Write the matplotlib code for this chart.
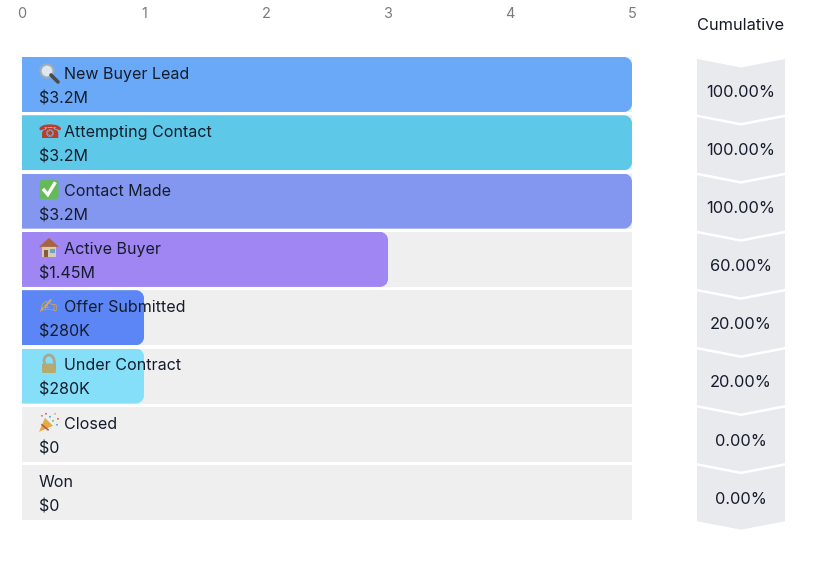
import matplotlib
matplotlib.use("Agg")
import matplotlib.pyplot as plt
from matplotlib.patches import Polygon, Circle, Rectangle, FancyBboxPatch, Arc, PathPatch
from matplotlib.path import Path

stages = ["New Buyer Lead", "Attempting Contact", "Contact Made", "Active Buyer",
          "Offer Submitted", "Under Contract", "Closed", "Won"]
# icon kinds: a text glyph where an installed font has one, otherwise a small drawn symbol
icons = ["search", "\u260E", "check", "house", "\u270D", "lock", "party", ""]
amounts = ["$3.2M", "$3.2M", "$3.2M", "$1.45M", "$280K", "$280K", "$0", "$0"]
counts = [5, 5, 5, 3, 1, 1, 0, 0]
cumulative = ["100.00%", "100.00%", "100.00%", "60.00%", "20.00%", "20.00%", "0.00%", "0.00%"]
colors = ["#69a9f8", "#5ec8e8", "#8497f0", "#9f86f2", "#5c86f5", "#86dff9", "#69a9f8", "#69a9f8"]
xticks = [0, 1, 2, 3, 4, 5]

W, H = 822, 572
plt.rcParams["font.family"] = ["Inter", "DejaVu Sans"]
fig = plt.figure(figsize=(W / 100, H / 100), dpi=100, facecolor="white")

top, pitch = 57.0, 58.3
bottom = top + 8 * pitch
bar_h = 55.0 / pitch
ax = fig.add_axes([22 / W, 1 - bottom / H, 610 / W, (bottom - top) / H])
ax.set_xlim(0, 5)
ax.set_ylim(8, 0)
for s in ax.spines.values():
    s.set_visible(False)
ax.patch.set_alpha(0)
ax.set_yticks([])
ax.xaxis.tick_top()
ax.set_xticks(xticks)
ax.tick_params(axis="x", length=0, pad=26, labelsize=10.4, labelcolor="#777a80")

ys = [i + bar_h / 2 for i in range(len(stages))]
ax.barh(ys, [5] * len(stages), height=bar_h, color="#efeff0", linewidth=0, zorder=1)
bars = ax.barh(ys, counts, height=bar_h, color=colors, linewidth=0, zorder=2)

rx = 8 / 122
ry = 8 / pitch
K = 0.55
for b in bars:
    x0, y0, w, h = b.get_x(), b.get_y(), b.get_width(), b.get_height()
    if w == 0:
        continue
    x1, y1 = x0 + w, y0 + h
    verts = [(x0, y0), (x1 - rx, y0),
             (x1 - rx + K * rx, y0), (x1, y0 + ry - K * ry), (x1, y0 + ry),
             (x1, y1 - ry),
             (x1, y1 - ry + K * ry), (x1 - rx + K * rx, y1), (x1 - rx, y1),
             (x0, y1), (x0, y0)]
    codes = [Path.MOVETO, Path.LINETO, Path.CURVE4, Path.CURVE4, Path.CURVE4,
             Path.LINETO, Path.CURVE4, Path.CURVE4, Path.CURVE4, Path.LINETO, Path.CLOSEPOLY]
    b.set_clip_path(PathPatch(Path(verts, codes), transform=ax.transData))

# overlay in pixel units for the small emoji-like symbols
ov = fig.add_axes([0, 0, 1, 1], zorder=5)
ov.set_xlim(0, W)
ov.set_ylim(H, 0)
ov.axis("off")
ov.patch.set_alpha(0)


def draw_search(c, y):
    ov.plot([c + 2, c + 9], [y + 2, y + 9], color="#4a4a4e", lw=2.6, solid_capstyle="round")
    ov.add_patch(Circle((c - 2, y - 2), 6.5, facecolor="#dbe8f2", edgecolor="#a3acb3", lw=1.6))


def draw_check(c, y):
    ov.add_patch(FancyBboxPatch((c - 7.5, y - 7.5), 15, 15, boxstyle="round,pad=2,rounding_size=3.5",
                                facecolor="#62bb55", edgecolor="none"))
    ov.plot([c - 5, c - 1.2, c + 5.5], [y + 0.5, y + 5, y - 6], color="white", lw=2.4,
            solid_joinstyle="miter")


def draw_house(c, y):
    ov.add_patch(Rectangle((c - 7, y - 2), 14, 11, facecolor="#d9cbb4", edgecolor="none"))
    ov.add_patch(Polygon([(c - 10, y - 1), (c, y - 10), (c + 10, y - 1)], closed=True,
                         facecolor="#a8633f", edgecolor="none"))
    ov.add_patch(Rectangle((c - 5, y + 2), 3.5, 7, facecolor="#8a5a3a", edgecolor="none"))
    ov.add_patch(Rectangle((c + 0.5, y + 1), 5, 4, facecolor="#6fa3c4", edgecolor="none"))


def draw_lock(c, y):
    ov.add_patch(Arc((c, y - 3), 10.5, 13, theta1=180, theta2=360, color="#a9a78f", lw=2))
    ov.plot([c - 5.2, c - 5.2], [y - 3, y + 1], color="#a9a78f", lw=2)
    ov.plot([c + 5.2, c + 5.2], [y - 3, y + 1], color="#a9a78f", lw=2)
    ov.add_patch(FancyBboxPatch((c - 6.5, y - 0.5), 13, 8.5, boxstyle="round,pad=0.5,rounding_size=1.5",
                                facecolor="#b9a96c", edgecolor="none"))


def draw_party(c, y):
    ov.add_patch(Polygon([(c - 10, y + 9), (c - 4, y - 5), (c + 4, y + 3)], closed=True,
                         facecolor="#e3ad46", edgecolor="none"))
    ov.plot([c - 7, c - 1], [y + 2, y + 7], color="#c0564a", lw=1.2)
    for dx, dy, col in [(-3, -9, "#d9534f"), (1, -6, "#4f9bd9"), (6, -9, "#e3ad46"),
                        (9, -4, "#d9534f"), (4, -2, "#62bb55"), (8, 2, "#4f9bd9"), (-7, -7, "#b06cc8")]:
        ov.add_patch(Circle((c + dx, y + dy), 0.9, facecolor=col, edgecolor="none"))


drawers = {"search": draw_search, "check": draw_check, "house": draw_house,
           "lock": draw_lock, "party": draw_party}
glyph_colors = {"\u260E": "#c0392b", "\u270D": "#e8a92f"}
glyph_sizes = {"\u260E": 14.0, "\u270D": 16.0}

dark = "#151c2b"
for i, (name, icon, amt) in enumerate(zip(stages, icons, amounts)):
    tx = 17 / 122
    nx = 42 / 122
    ny = i + 17.5 / pitch
    row_y = top + i * pitch + 16
    if icon in drawers:
        drawers[icon](49, row_y)
    elif icon:
        ax.text(tx - 1 / 122, ny, icon, fontsize=glyph_sizes[icon], color=glyph_colors[icon],
                va="center", ha="left", zorder=3)
    ax.text(nx if icon else tx, ny, name, fontsize=11.55, color=dark, va="center", ha="left", zorder=3)
    ax.text(tx, i + 42 / pitch, amt, fontsize=11.55, color=dark, va="center", ha="left", zorder=3)

c_top, c_pitch = 59.0, 58.1
cx = fig.add_axes([697 / W, 1 - (c_top + 8 * c_pitch) / H, 88 / W, 8 * c_pitch / H])
cx.set_xlim(0, 1)
cx.set_ylim(8, 0)
cx.axis("off")
cx.patch.set_alpha(0)
notch = 8.5 / c_pitch
y_bot = 55.5 / c_pitch
for i, label in enumerate(cumulative):
    cx.add_patch(Polygon([(0, i), (0.5, i + notch), (1, i),
                          (1, i + y_bot), (0.5, i + y_bot + notch), (0, i + y_bot)],
                         closed=True, facecolor="#e9eaee", edgecolor="none", clip_on=False))
    cx.text(0.5, i + 33.5 / c_pitch, label, fontsize=11.8, color=dark, ha="center", va="center")

fig.text(741 / W, 1 - 25 / H, "Cumulative", fontsize=11.8, color="#151a24", ha="center", va="center")
fig.savefig("out.png", dpi=100, facecolor="white")
